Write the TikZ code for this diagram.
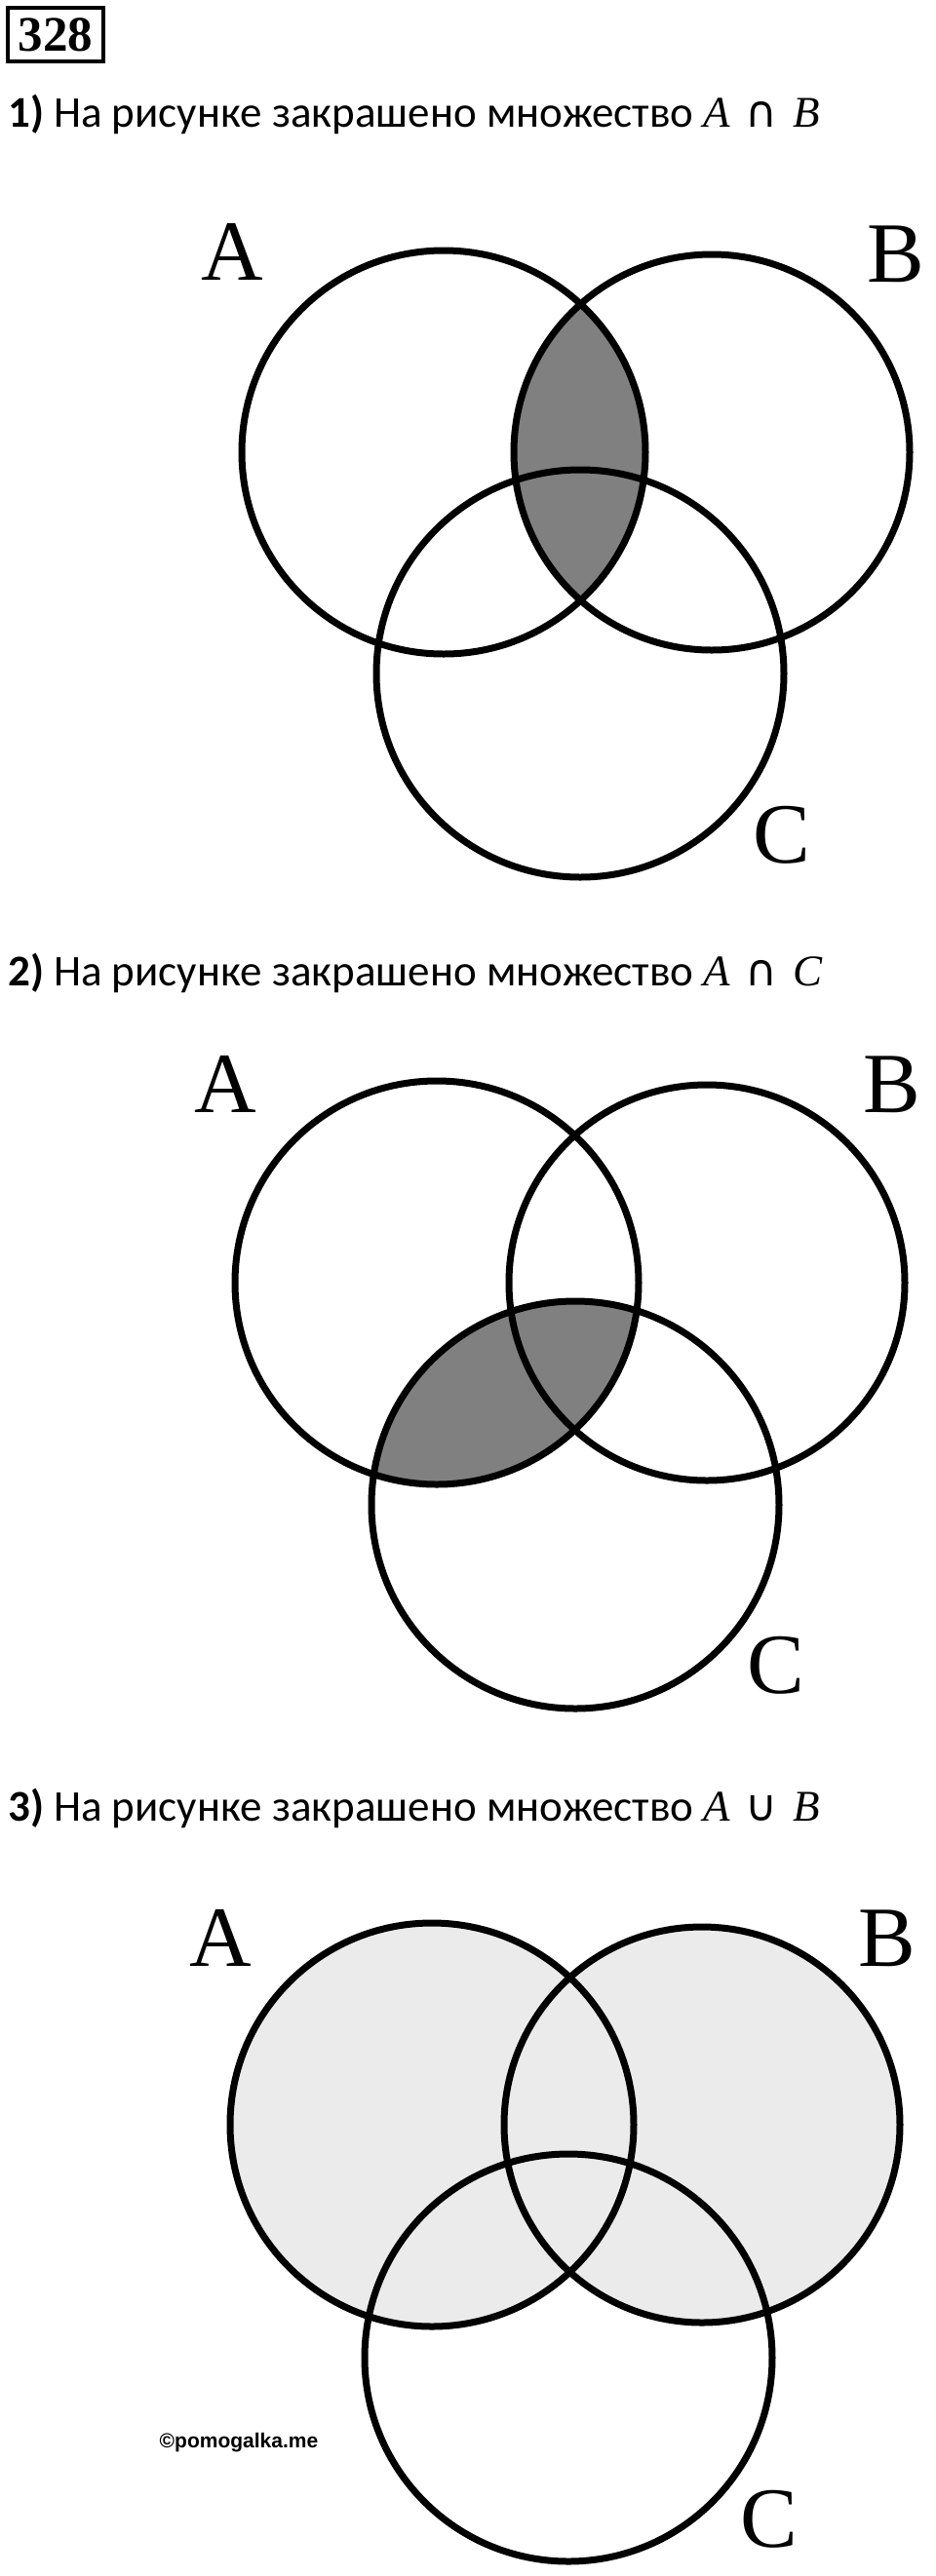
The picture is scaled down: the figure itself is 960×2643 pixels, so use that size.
\documentclass[tikz,border=0pt]{standalone}
\usepackage{fontspec}
\setmainfont{Carlito}
\newfontfamily\setfont{Liberation Serif}
\newfontfamily\opfont{DejaVu Sans}
\newfontfamily\markfont{Liberation Sans}
\definecolor{darkfill}{RGB}{128,128,128}
\definecolor{lightfill}{RGB}{235,235,235}
\newcommand{\mset}[1]{{\setfont\itshape #1}}
\newcommand{\mop}[1]{\hspace{0.12em}{\opfont #1}\hspace{0.12em}}
\begin{document}
\begin{tikzpicture}[x=1pt, y=-1pt]
    \tikzstyle{ring}=[draw=black, line width=7pt]
    \tikzstyle{caption}=[anchor=base west, inner sep=0pt, font=\fontsize{45}{54}\selectfont]
    \tikzstyle{setname}=[anchor=center, inner sep=0pt, font=\setfont\fontsize{88}{96}\selectfont]
    \useasboundingbox[fill=white] (0,0) rectangle (960,2643);
    % task number
    \node[draw, line width=3.5pt, inner sep=0pt, minimum width=98pt, minimum height=55pt,
          font=\setfont\bfseries\fontsize{51}{56}\selectfont] (num) at (57,35.5) {328};
    % 1) A cap B
    \node[caption] (q1) at (8,130) {\textbf{1)} На рисунке закрашено множество \mset{A} \mop{∩} \mset{B}};
    \coordinate (a1) at (455,464);
    \coordinate (b1) at (730,464);
    \coordinate (c1) at (595,691);
    \begin{scope}
      \clip (a1) circle[radius=207pt];
      \fill[darkfill] (b1) circle[radius=203pt];
    \end{scope}
    \draw[ring] (a1) circle[radius=207pt];
    \draw[ring] (b1) circle[radius=203pt];
    \draw[ring] (c1) circle[radius=209pt];
    \node[setname] (la1) at (238,258) {A};
    \node[setname] (lb1) at (919,261) {B};
    \node[setname] (lc1) at (802,857) {C};
    % 2) A cap C
    \node[caption] (q2) at (8,1011) {\textbf{2)} На рисунке закрашено множество \mset{A} \mop{∩} \mset{C}};
    \coordinate (a2) at (448,1316);
    \coordinate (b2) at (725,1316);
    \coordinate (c2) at (590,1544);
    \begin{scope}
      \clip (a2) circle[radius=207pt];
      \fill[darkfill] (c2) circle[radius=209pt];
    \end{scope}
    \draw[ring] (a2) circle[radius=207pt];
    \draw[ring] (b2) circle[radius=203pt];
    \draw[ring] (c2) circle[radius=209pt];
    \node[setname] (la2) at (231,1112) {A};
    \node[setname] (lb2) at (915,1113) {B};
    \node[setname] (lc2) at (796,1709) {C};
    % 3) A cup B
    \node[caption] (q3) at (8,1868) {\textbf{3)} На рисунке закрашено множество \mset{A} \mop{∪} \mset{B}};
    \coordinate (a3) at (443,2180);
    \coordinate (b3) at (720,2180);
    \coordinate (c3) at (583,2419);
    \fill[lightfill] (a3) circle[radius=207pt];
    \fill[lightfill] (b3) circle[radius=203pt];
    \draw[ring] (a3) circle[radius=207pt];
    \draw[ring] (b3) circle[radius=203pt];
    \draw[ring] (c3) circle[radius=209pt];
    \node[setname] (la3) at (226,1988) {A};
    \node[setname] (lb3) at (910,1989) {B};
    \node[setname] (lc3) at (789,2585) {C};
    \node[font=\markfont\bfseries\fontsize{21}{24}\selectfont] (mark) at (245,2506) {©pomogalka.me};
\end{tikzpicture}
\end{document}
